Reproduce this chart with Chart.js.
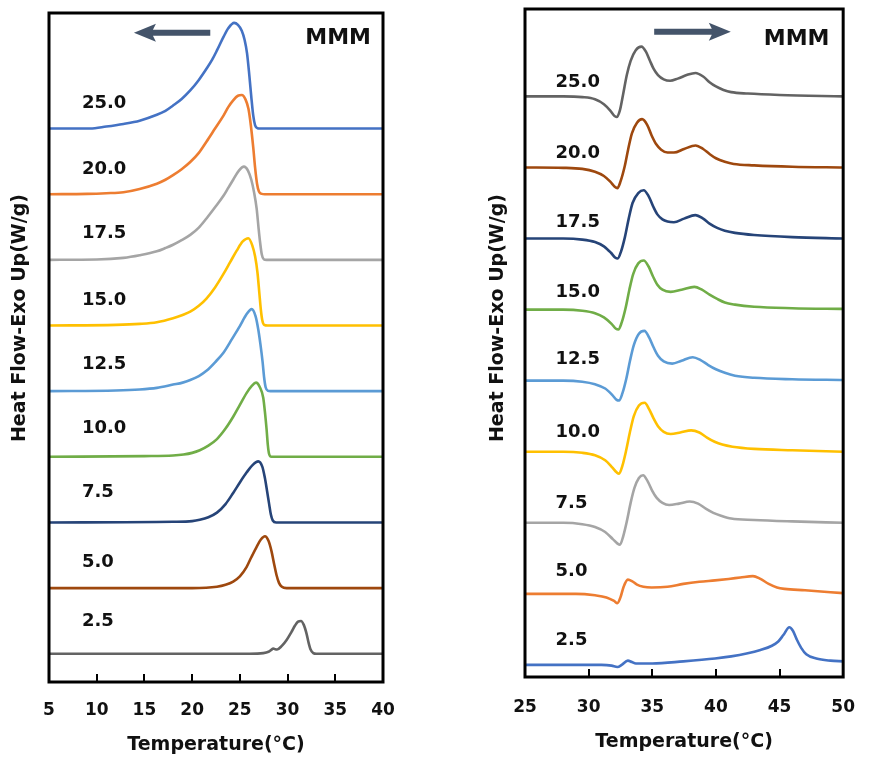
<!DOCTYPE html>
<html>
<head>
<meta charset="utf-8">
<title>DSC cooling / heating curves</title>
<script src="https://cdn.jsdelivr.net/npm/chart.js@4.4.1/dist/chart.umd.min.js"></script>
<style>
  html, body { margin: 0; padding: 0; background: #fff; }
  #wrap { position: relative; width: 875px; height: 757px; }
  #coolCanvas { position: absolute; left: 0; top: 0; }
  #heatCanvas { position: absolute; left: 440px; top: 0; }
</style>
</head>
<body>
<div id="wrap">
  <canvas id="coolCanvas" width="440" height="757"></canvas>
  <canvas id="heatCanvas" width="435" height="757"></canvas>
</div>
<script>
// rates (°C/min), top curve first
var rates = ['25.0', '20.0', '17.5', '15.0', '12.5', '10.0', '7.5', '5.0', '2.5'];

// cooling runs: [temperature, heat flow above own baseline]
var cool250 = [[5,0],[9.3,0],[11,0.03],[12.8,0.07],[14.5,0.12],[16.3,0.21],[17.2,0.27],[18.0,0.35],[18.9,0.45],[19.8,0.58],[20.7,0.74],[21.5,0.91],[22.1,1.05],[22.6,1.19],[23.3,1.40],[23.8,1.53],[24.4,1.61],[24.8,1.58],[25.2,1.49],[25.5,1.35],[25.75,1.15],[26.0,0.80],[26.2,0.48],[26.4,0.20],[26.6,0.05],[26.85,0.005],[27.1,0],[40,0]];
var cool200 = [[5,0],[9,0.005],[11,0.015],[12.8,0.03],[14.5,0.08],[16.3,0.16],[17.2,0.22],[18.0,0.29],[18.9,0.38],[19.8,0.49],[20.7,0.63],[21.5,0.80],[22.4,1.0],[23.3,1.20],[23.8,1.33],[24.3,1.43],[24.8,1.50],[25.2,1.51],[25.6,1.44],[25.9,1.30],[26.15,1.05],[26.41,0.70],[26.6,0.40],[26.8,0.16],[27.0,0.04],[27.3,0.005],[27.6,0],[40,0]];
var cool175 = [[5,0],[10,0.005],[12.8,0.03],[14.5,0.07],[16.3,0.13],[17.2,0.18],[18.0,0.23],[18.9,0.30],[19.8,0.38],[20.7,0.49],[21.5,0.63],[22.4,0.80],[23.3,0.98],[23.8,1.10],[24.3,1.22],[24.9,1.36],[25.43,1.42],[25.85,1.36],[26.2,1.22],[26.5,1.02],[26.76,0.78],[26.95,0.50],[27.11,0.28],[27.3,0.08],[27.5,0.01],[27.8,0],[40,0]];
var cool150 = [[5,0],[12,0.01],[14.5,0.025],[16.3,0.05],[18.0,0.11],[19.0,0.16],[19.8,0.21],[20.7,0.30],[21.5,0.41],[22.4,0.58],[23.3,0.79],[24.0,0.97],[24.67,1.14],[25.3,1.28],[25.89,1.33],[26.3,1.22],[26.6,1.05],[26.85,0.80],[27.05,0.48],[27.2,0.24],[27.35,0.08],[27.55,0.01],[27.9,0],[40,0]];
var cool125 = [[5,0],[12,0.01],[14.5,0.025],[16.3,0.05],[18.0,0.10],[19.0,0.13],[19.8,0.17],[20.7,0.23],[21.5,0.31],[22.4,0.44],[23.3,0.59],[24.2,0.80],[25.0,0.99],[25.7,1.17],[26.24,1.25],[26.65,1.14],[26.93,0.94],[27.15,0.72],[27.38,0.45],[27.55,0.20],[27.7,0.06],[27.95,0.005],[28.2,0],[40,0]];
var cool100 = [[5,0],[15,0.01],[18,0.02],[19.1,0.035],[20.0,0.06],[20.8,0.10],[21.7,0.17],[22.6,0.27],[23.5,0.43],[24.3,0.61],[25.0,0.79],[25.7,0.97],[26.25,1.08],[26.69,1.13],[27.1,1.06],[27.45,0.90],[27.65,0.65],[27.8,0.42],[27.93,0.18],[28.05,0.05],[28.3,0],[40,0]];
var cool075 = [[5,0],[18,0.01],[20.0,0.02],[20.8,0.04],[21.7,0.08],[22.6,0.15],[23.5,0.28],[24.3,0.45],[25.0,0.61],[25.7,0.76],[26.3,0.87],[26.93,0.93],[27.35,0.85],[27.62,0.68],[27.85,0.48],[28.07,0.28],[28.25,0.12],[28.45,0.03],[28.8,0],[40,0]];
var cool050 = [[5,0],[20,0],[22.6,0.02],[23.5,0.05],[24.3,0.10],[25.0,0.18],[25.7,0.32],[26.2,0.47],[26.76,0.63],[27.2,0.74],[27.63,0.79],[28.0,0.72],[28.32,0.56],[28.6,0.36],[28.84,0.20],[29.1,0.08],[29.4,0.02],[29.9,0],[40,0]];
var cool025 = [[5,0],[26,0],[27.45,0.01],[28.0,0.03],[28.3,0.06],[28.5,0.08],[28.7,0.07],[28.9,0.065],[29.4,0.12],[29.9,0.21],[30.4,0.33],[30.78,0.43],[31.1,0.49],[31.41,0.50],[31.7,0.44],[32.0,0.30],[32.2,0.17],[32.4,0.07],[32.7,0.01],[33,0],[40,0]];

// heating runs
var heat250 = [[25,0],[28,0],[29.5,-0.01],[30.5,-0.04],[31.2,-0.11],[31.7,-0.20],[32.0,-0.27],[32.2,-0.29],[32.45,-0.20],[32.7,0.02],[33.0,0.30],[33.3,0.50],[33.7,0.65],[34.15,0.70],[34.5,0.63],[34.8,0.51],[35.1,0.39],[35.45,0.30],[35.9,0.24],[36.4,0.22],[37.0,0.25],[37.7,0.30],[38.4,0.33],[39.0,0.28],[39.5,0.20],[40.0,0.14],[40.6,0.09],[41.2,0.06],[42.5,0.04],[45,0.02],[50,0]];
var heat200 = [[25,0],[28,-0.005],[29.5,-0.02],[30.5,-0.06],[31.2,-0.12],[31.7,-0.20],[32.05,-0.27],[32.26,-0.29],[32.5,-0.20],[32.84,0.02],[33.1,0.25],[33.4,0.48],[33.8,0.63],[34.2,0.68],[34.6,0.60],[34.95,0.45],[35.3,0.33],[35.7,0.25],[36.2,0.21],[36.7,0.21],[37.5,0.26],[38.4,0.31],[39.0,0.26],[39.5,0.19],[40.0,0.13],[40.7,0.08],[41.4,0.05],[43,0.03],[46,0.01],[50,0]];
var heat175 = [[25,0],[28,0],[29.5,-0.015],[30.5,-0.05],[31.2,-0.11],[31.75,-0.20],[32.1,-0.27],[32.29,-0.28],[32.55,-0.18],[32.85,0.02],[33.15,0.28],[33.45,0.50],[33.9,0.64],[34.33,0.68],[34.7,0.60],[35.05,0.46],[35.4,0.34],[35.8,0.27],[36.2,0.24],[36.7,0.23],[37.5,0.28],[38.38,0.33],[39.0,0.28],[39.5,0.21],[40.1,0.15],[40.7,0.11],[41.5,0.08],[43,0.05],[46,0.02],[50,0]];
var heat150 = [[25,0],[28,0],[29.5,-0.015],[30.5,-0.05],[31.2,-0.11],[31.8,-0.20],[32.15,-0.27],[32.34,-0.28],[32.6,-0.18],[32.9,0.02],[33.2,0.28],[33.5,0.50],[33.9,0.65],[34.33,0.69],[34.7,0.61],[35.05,0.47],[35.4,0.35],[35.8,0.28],[36.44,0.25],[37.3,0.28],[38.31,0.32],[38.9,0.28],[39.5,0.21],[40.1,0.15],[40.7,0.10],[41.5,0.07],[43,0.04],[46,0.02],[50,0.01]];
var heat125 = [[25,0],[28,0],[29.5,-0.015],[30.5,-0.05],[31.3,-0.11],[31.85,-0.20],[32.2,-0.27],[32.39,-0.28],[32.65,-0.18],[32.95,0.02],[33.25,0.28],[33.55,0.50],[33.95,0.66],[34.38,0.70],[34.75,0.61],[35.1,0.47],[35.45,0.35],[35.9,0.27],[36.57,0.24],[37.3,0.28],[38.18,0.33],[38.8,0.29],[39.4,0.22],[40.0,0.16],[40.7,0.11],[41.5,0.07],[43,0.04],[46,0.02],[50,0.01]];
var heat100 = [[25,0],[28,0],[29.5,-0.015],[30.5,-0.05],[31.3,-0.12],[31.85,-0.22],[32.2,-0.29],[32.39,-0.31],[32.65,-0.20],[32.95,0.02],[33.25,0.28],[33.55,0.50],[33.95,0.65],[34.4,0.69],[34.75,0.60],[35.1,0.47],[35.45,0.36],[35.9,0.28],[36.44,0.25],[37.2,0.27],[38.06,0.30],[38.7,0.27],[39.3,0.20],[39.9,0.14],[40.5,0.10],[41.3,0.07],[43,0.04],[46,0.02],[50,0]];
var heat075 = [[25,0],[28,0],[29.5,-0.02],[30.5,-0.06],[31.3,-0.13],[31.9,-0.23],[32.25,-0.29],[32.46,-0.31],[32.7,-0.20],[33.0,0.02],[33.3,0.28],[33.6,0.49],[33.95,0.63],[34.28,0.67],[34.65,0.58],[35.0,0.45],[35.35,0.35],[35.8,0.28],[36.32,0.25],[37.1,0.27],[37.94,0.30],[38.6,0.27],[39.2,0.20],[39.8,0.14],[40.4,0.10],[41.2,0.06],[43,0.04],[46,0.02],[50,0]];
var heat050 = [[25,0],[29,0],[30.5,-0.02],[31.4,-0.05],[32.0,-0.10],[32.26,-0.13],[32.5,-0.05],[32.75,0.10],[33.08,0.20],[33.4,0.18],[33.8,0.13],[34.3,0.10],[34.95,0.09],[36.2,0.10],[37.44,0.14],[38.7,0.17],[39.93,0.19],[41.0,0.21],[41.92,0.23],[42.91,0.25],[43.5,0.21],[44.15,0.14],[44.8,0.09],[45.4,0.07],[47,0.05],[50,0.01]];
var heat025 = [[25,0],[31,0],[31.8,-0.01],[32.26,-0.03],[32.6,0],[33.08,0.06],[33.4,0.04],[33.71,0.02],[35,0.02],[37.44,0.05],[39.93,0.09],[41.2,0.12],[42.41,0.16],[43.5,0.21],[44.4,0.27],[44.9,0.33],[45.3,0.42],[45.77,0.53],[46.05,0.48],[46.35,0.36],[46.7,0.24],[47.1,0.15],[47.89,0.09],[49,0.06],[50,0.05]];

var coolCurves = [cool250, cool200, cool175, cool150, cool125, cool100, cool075, cool050, cool025];
var heatCurves = [heat250, heat200, heat175, heat150, heat125, heat100, heat075, heat050, heat025];

var coolColors = ['#4472C4', '#ED7D31', '#A5A5A5', '#FFC000', '#5B9BD5', '#70AD47', '#264478', '#9E480E', '#636363'];
var heatColors = ['#636363', '#9E480E', '#264478', '#70AD47', '#5B9BD5', '#FFC000', '#A5A5A5', '#ED7D31', '#4472C4'];

var coolTicks = [5, 10, 15, 20, 25, 30, 35, 40];
var heatTicks = [25, 30, 35, 40, 45, 50];

// each curve sits on its own baseline, bottom curve at 0
function buildSets(curves, colors) {
    return curves.map(function (pts, i) {
        var base = curves.length - 1 - i;
        return {
            label: rates[i],
            data: pts.map(function (p) { return { x: p[0], y: p[1] + base }; }),
            borderColor: colors[i],
            borderWidth: 2.6,
            pointRadius: 0,
            cubicInterpolationMode: 'monotone',
            fill: false
        };
    });
}

function drawArrow(ctx, x0, x1, y) {
    var dir = x1 > x0 ? 1 : -1, headLen = 19, half = 9, shaft = 3;
    var hx = x1 - dir * headLen;
    ctx.beginPath();
    ctx.moveTo(x0, y - shaft);
    ctx.lineTo(hx, y - shaft);
    ctx.lineTo(hx - dir * 3, y - half);
    ctx.lineTo(x1, y);
    ctx.lineTo(hx - dir * 3, y + half);
    ctx.lineTo(hx, y + shaft);
    ctx.lineTo(x0, y + shaft);
    ctx.closePath();
    ctx.fill();
}

// curve labels, arrow, sample name, inward ticks, frame and y title
var decorPlugin = {
    id: 'decor',
    afterDatasetsDraw: function (chart, args, o) {
        var ctx = chart.ctx, area = chart.chartArea;
        var xs = chart.scales.x, ys = chart.scales.y;
        ctx.save();
        ctx.fillStyle = '#111';
        ctx.font = 'bold 18px "DejaVu Sans"';
        ctx.textAlign = 'left';
        ctx.textBaseline = 'middle';
        rates.forEach(function (r, i) {
            var base = rates.length - 1 - i;
            ctx.fillText(r, xs.getPixelForValue(o.labelX), ys.getPixelForValue(base + o.lift[i]));
        });

        ctx.font = 'bold 22px "DejaVu Sans"';
        ctx.textAlign = 'center';
        ctx.fillText('MMM', xs.getPixelForValue(o.tag[0]), ys.getPixelForValue(o.tag[1]));

        ctx.fillStyle = '#44546A';
        drawArrow(ctx, xs.getPixelForValue(o.arrow[0]), xs.getPixelForValue(o.arrow[1]), ys.getPixelForValue(o.arrow[2]));

        ctx.strokeStyle = '#000';
        ctx.lineWidth = 2;
        o.ticks.slice(1, -1).forEach(function (t) {
            var px = Math.round(xs.getPixelForValue(t));
            ctx.beginPath();
            ctx.moveTo(px, area.bottom);
            ctx.lineTo(px, area.bottom - 8);
            ctx.stroke();
        });

        ctx.lineWidth = 3;
        ctx.strokeRect(area.left, area.top, area.right - area.left, area.bottom - area.top);

        ctx.fillStyle = '#111';
        ctx.font = 'bold 19px "DejaVu Sans"';
        ctx.translate(o.titleX, o.titleY);
        ctx.rotate(-Math.PI / 2);
        ctx.textAlign = 'center';
        ctx.fillText('Heat Flow-Exo Up(W/g)', 0, 0);
        ctx.restore();
    }
};

function makeChart(id, cfg) {
    var ctx = document.getElementById(id).getContext('2d');
    return new Chart(ctx, {
        type: 'line',
        data: { datasets: buildSets(cfg.curves, cfg.colors) },
        plugins: [decorPlugin],
        options: {
            responsive: false,
            animation: false,
            layout: { padding: cfg.padding },
            plugins: {
                legend: { display: false },
                tooltip: { enabled: false },
                decor: cfg.decor
            },
            scales: {
                x: {
                    type: 'linear',
                    min: cfg.ticks[0],
                    max: cfg.ticks[cfg.ticks.length - 1],
                    afterFit: function (s) { s.height = cfg.axisHeight; },
                    afterBuildTicks: function (s) { s.ticks = cfg.ticks.map(function (v) { return { value: v }; }); },
                    grid: { display: false, drawTicks: false },
                    border: { display: false },
                    ticks: {
                        padding: cfg.tickPad,
                        color: '#111',
                        autoSkip: false,
                        maxRotation: 0,
                        font: { family: 'DejaVu Sans', size: 17, weight: 'bold' }
                    },
                    title: {
                        display: true,
                        text: 'Temperature(°C)',
                        color: '#111',
                        font: { family: 'DejaVu Sans', size: 19, weight: 'bold' },
                        padding: { top: 0, bottom: cfg.titlePad }
                    }
                },
                y: { display: false, min: cfg.yRange[0], max: cfg.yRange[1] }
            }
        }
    });
}

window.onload = function () {
    window.CoolChart = makeChart('coolCanvas', {
        curves: coolCurves,
        colors: coolColors,
        ticks: coolTicks,
        padding: { left: 49, right: 57, top: 13, bottom: 0 },
        axisHeight: 75,
        tickPad: 18,
        titlePad: 1,
        yRange: [-0.43, 9.76],
        decor: {
            labelX: 8.45,
            lift: [0.38, 0.38, 0.41, 0.38, 0.41, 0.44, 0.46, 0.40, 0.49],
            tag: [35.3, 9.38],
            arrow: [21.9, 13.9, 9.46],
            ticks: coolTicks,
            titleX: 20,
            titleY: 318
        }
    });

    window.HeatChart = makeChart('heatCanvas', {
        curves: heatCurves,
        colors: heatColors,
        ticks: heatTicks,
        padding: { left: 85, right: 15, top: 9, bottom: 0 },
        axisHeight: 80,
        tickPad: 20,
        titlePad: 4,
        yRange: [-0.17, 9.23],
        decor: {
            labelX: 27.4,
            lift: [0.20, 0.20, 0.23, 0.24, 0.30, 0.27, 0.28, 0.32, 0.35],
            tag: [46.34, 8.81],
            arrow: [35.15, 41.17, 8.91],
            ticks: heatTicks,
            titleX: 58,
            titleY: 318
        }
    });
};
</script>
</body>
</html>
